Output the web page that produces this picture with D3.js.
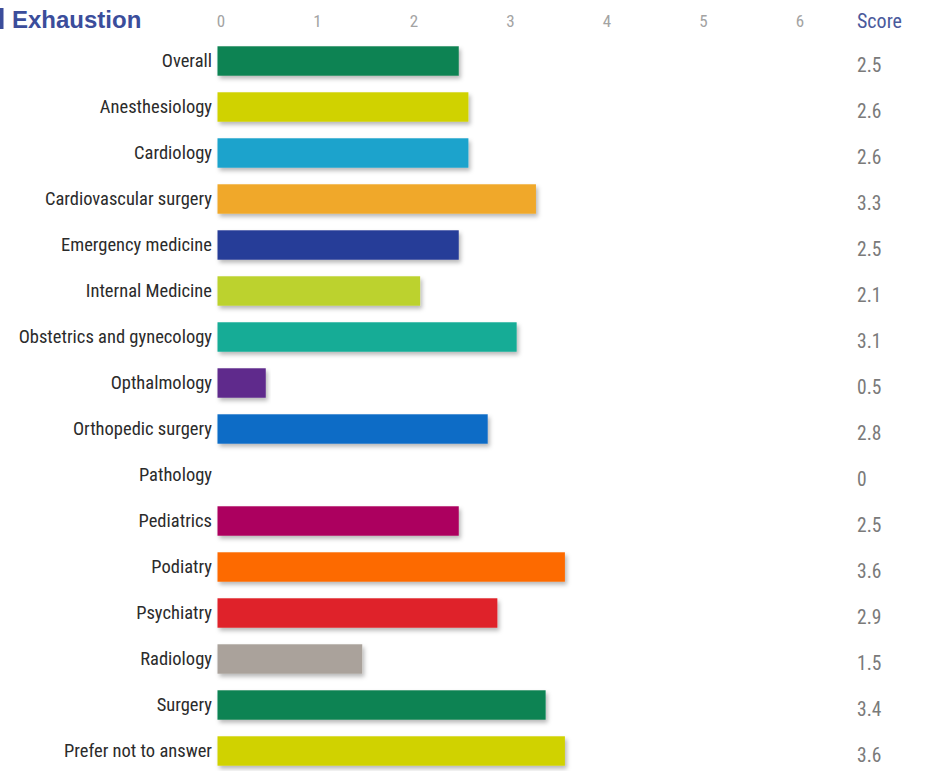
<!DOCTYPE html>
<html>
<head>
<meta charset="utf-8">
<script src="https://cdn.jsdelivr.net/npm/d3@7"></script>
<style>
  html, body { margin: 0; padding: 0; background: #fff; }
  svg { display: block; }
  .lbl { font-family: "Liberation Sans Narrow", "Roboto Condensed", "Liberation Sans", sans-serif; }
</style>
</head>
<body>
<svg id="chart" width="944" height="771"></svg>
<script>
// Exhaustion scores by specialty
const specialties = [
  "Overall", "Anesthesiology", "Cardiology", "Cardiovascular surgery",
  "Emergency medicine", "Internal Medicine", "Obstetrics and gynecology",
  "Opthalmology", "Orthopedic surgery", "Pathology", "Pediatrics",
  "Podiatry", "Psychiatry", "Radiology", "Surgery", "Prefer not to answer"
];
const scores = [2.5, 2.6, 2.6, 3.3, 2.5, 2.1, 3.1, 0.5, 2.8, 0, 2.5, 3.6, 2.9, 1.5, 3.4, 3.6];
const scoreLabels = ["2.5", "2.6", "2.6", "3.3", "2.5", "2.1", "3.1", "0.5", "2.8", "0", "2.5", "3.6", "2.9", "1.5", "3.4", "3.6"];
const barColors = [
  "#0b8352", "#d0d200", "#1aa3cc", "#f0a82a", "#283c98", "#bcd22e",
  "#14ac96", "#5e2a8c", "#0a6cc6", "#ffffff", "#ac015e", "#fd6b00",
  "#df2029", "#aaa29b", "#0b8352", "#d0d200"
];
const tickValues = [0, 1, 2, 3, 4, 5, 6];

const svg = d3.select("#chart");

const x = d3.scaleLinear().domain([0, 6]).range([217.5, 796.5]);
const y = d3.scaleBand().domain(specialties).range([38, 774])
  .paddingInner(0.36).paddingOuter(0.18);

// soft shadow under each bar
const defs = svg.append("defs");
const f = defs.append("filter").attr("id", "shadow")
  .attr("x", "-5%").attr("y", "-30%").attr("width", "115%").attr("height", "190%");
f.append("feDropShadow").attr("dx", 2).attr("dy", 3)
  .attr("stdDeviation", 2).attr("flood-color", "#000").attr("flood-opacity", 0.28);

// title
svg.append("rect").attr("x", 0).attr("y", 8).attr("width", 3.5).attr("height", 21).attr("fill", "#3b4d9b");
svg.append("text")
  .attr("x", 12).attr("y", 28)
  .attr("font-family", "Liberation Sans, Arial, sans-serif")
  .attr("font-weight", "bold").attr("font-size", 24)
  .attr("fill", "#3b4d9b")
  .text("Exhaustion");

// top axis
const axis = d3.axisTop(x).tickValues(tickValues).tickFormat(d3.format("d"))
  .tickSize(0).tickPadding(0);
const ax = svg.append("g").attr("transform", "translate(3,27)").call(axis);
ax.select(".domain").remove();
ax.selectAll("text")
  .attr("class", "lbl")
  .attr("font-size", 17)
  .attr("fill", "#a3a3a3");

// score column header
svg.append("text")
  .attr("class", "lbl")
  .attr("x", 857).attr("y", 28)
  .attr("font-size", 20)
  .attr("fill", "#4a5a9c")
  .text("Score");

// bars
svg.append("g").selectAll("rect")
  .data(specialties)
  .join("rect")
  .attr("x", x(0))
  .attr("y", d => y(d))
  .attr("width", (d, i) => x(scores[i]) - x(0))
  .attr("height", y.bandwidth())
  .attr("fill", (d, i) => barColors[i])
  .attr("filter", "url(#shadow)");

// category labels
svg.append("g").selectAll("text")
  .data(specialties)
  .join("text")
  .attr("class", "lbl")
  .attr("x", 212)
  .attr("y", d => y(d) + y.bandwidth() / 2)
  .attr("dy", "0.35em")
  .attr("text-anchor", "end")
  .attr("font-size", 18.5)
  .attr("fill", "#2b2b2b")
  .text(d => d);

// score values
svg.append("g").selectAll("text")
  .data(specialties)
  .join("text")
  .attr("class", "lbl")
  .attr("x", 857)
  .attr("y", d => y(d) + y.bandwidth() / 2 + 4)
  .attr("dy", "0.35em")
  .attr("font-size", 19.5)
  .attr("fill", "#7a7a7a")
  .text((d, i) => scoreLabels[i]);
</script>
</body>
</html>
